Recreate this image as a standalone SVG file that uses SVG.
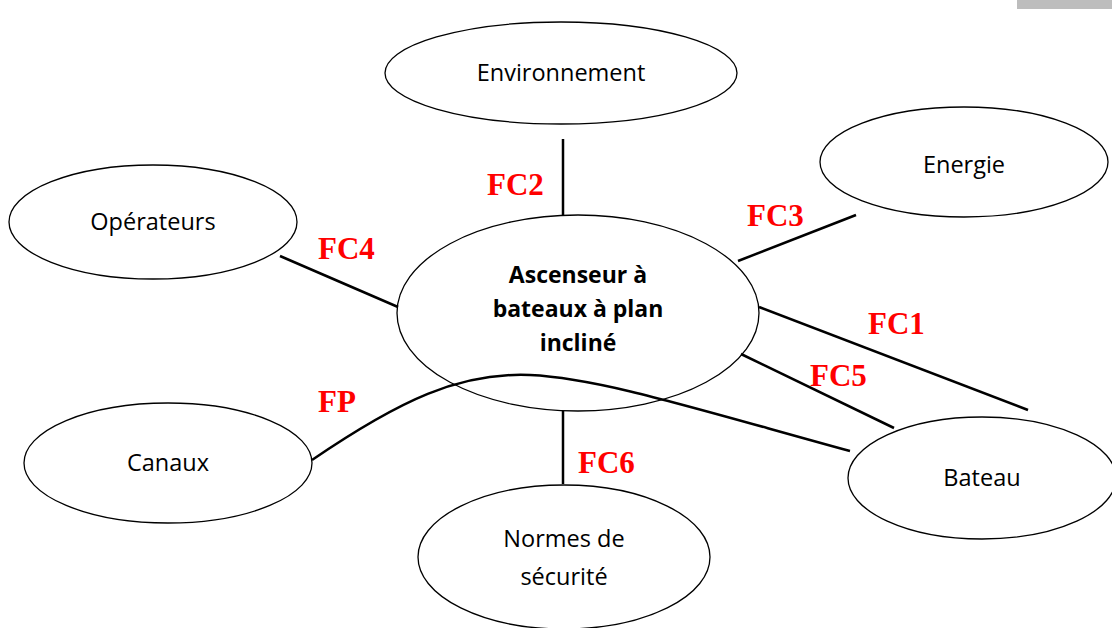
<svg xmlns="http://www.w3.org/2000/svg" width="1112" height="628" viewBox="0 0 1112 628">
<style>
.node{fill:#fff;stroke:#000;stroke-width:1.3}
.t{font-family:"Open Sans","Liberation Sans",sans-serif;font-size:23.5px;fill:#000;text-anchor:middle}
.b{font-weight:bold;font-size:23px}
.c{stroke:#000;stroke-width:2.5;fill:none}
.lab{font-family:"Liberation Serif",serif;font-weight:bold;font-size:31px;fill:#ff0000}
</style>
<rect width="1112" height="628" fill="#fff"/>
<rect x="1017" y="0" width="95" height="9" fill="#bdbdbd"/>
<g id="center"><ellipse class="node" cx="578" cy="313" rx="181" ry="98"/>
<text class="t b" x="578" y="283">Ascenseur à</text>
<text class="t b" x="578" y="317">bateaux à plan</text>
<text class="t b" x="578" y="351">incliné</text></g>
<g id="connectors">
<line class="c" x1="563" y1="139" x2="563" y2="215"/>
<line class="c" x1="738" y1="261" x2="856" y2="215"/>
<line class="c" x1="280" y1="256" x2="398" y2="307"/>
<line class="c" x1="759" y1="307" x2="1028" y2="410"/>
<line class="c" x1="741" y1="354" x2="894" y2="428"/>
<line class="c" x1="563" y1="411" x2="563" y2="484"/>
<path class="c" d="M312,460 C400,400 460,372 530,375 C600,378 700,410 850,451"/>
</g>
<g id="environnement"><ellipse class="node" cx="561" cy="73" rx="176" ry="51"/><text class="t" x="561" y="81">Environnement</text></g>
<g id="energie"><ellipse class="node" cx="964" cy="162" rx="144" ry="55"/><text class="t" x="964" y="173">Energie</text></g>
<g id="operateurs"><ellipse class="node" cx="153" cy="222" rx="144" ry="57"/><text class="t" x="153" y="230">Opérateurs</text></g>
<g id="canaux"><ellipse class="node" cx="168" cy="463" rx="144" ry="60"/><text class="t" x="168" y="471">Canaux</text></g>
<g id="bateau"><ellipse class="node" cx="982" cy="478" rx="134" ry="61"/><text class="t" x="982" y="486">Bateau</text></g>
<g id="normes"><ellipse class="node" cx="564" cy="557" rx="146" ry="72"/><text class="t" x="564" y="547">Normes de</text><text class="t" x="564" y="585">sécurité</text></g>
<g id="labels">
<text class="lab" x="487" y="195">FC2</text>
<text class="lab" x="747" y="226">FC3</text>
<text class="lab" x="318" y="259">FC4</text>
<text class="lab" x="868" y="334">FC1</text>
<text class="lab" x="810" y="386">FC5</text>
<text class="lab" x="318" y="412">FP</text>
<text class="lab" x="578" y="473">FC6</text>
</g>
</svg>
